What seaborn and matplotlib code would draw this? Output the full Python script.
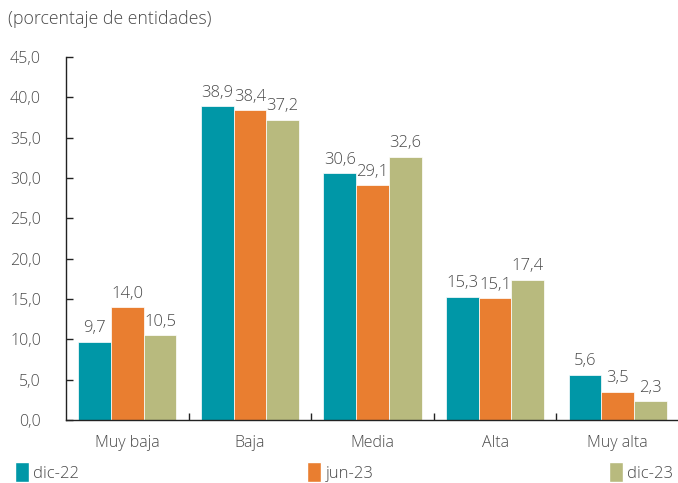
import matplotlib
matplotlib.use("Agg")
import matplotlib.pyplot as plt
from matplotlib.patches import Patch
from matplotlib.ticker import FixedLocator
import seaborn as sns
import pandas as pd

categorias = ["Muy baja", "Baja", "Media", "Alta", "Muy alta"]
periodos = ["dic-22", "jun-23", "dic-23"]
dic22 = [9.7, 38.9, 30.6, 15.3, 5.6]
jun23 = [14.0, 38.4, 29.1, 15.1, 3.5]
dic23 = [10.5, 37.2, 32.6, 17.4, 2.3]
colores = ["#0097A7", "#E97E30", "#B8BA7E"]
yticks = [0, 5, 10, 15, 20, 25, 30, 35, 40, 45]

df = pd.DataFrame({
    "categoria": categorias * 3,
    "periodo": [p for p in periodos for _ in categorias],
    "valor": dic22 + jun23 + dic23,
})

sns.set_theme(style="white")
plt.rcParams["font.family"] = ["Open Sans", "DejaVu Sans"]
plt.rcParams["font.weight"] = "light"
texto = "#4a4a4a"

fig = plt.figure(figsize=(6.78, 4.83), dpi=100)
ax = fig.add_axes([66 / 678, 1 - 420 / 483, 613 / 678, (420 - 57) / 483])

sns.barplot(data=df, x="categoria", y="valor", hue="periodo", order=categorias,
            hue_order=periodos, palette=colores, width=0.8, saturation=1,
            edgecolor="white", linewidth=0.5, legend=False, ax=ax)

for cont in ax.containers:
    ax.bar_label(cont, labels=[f"{v:.1f}".replace(".", ",") for v in cont.datavalues],
                 padding=4, fontsize=12, color=texto)

ax.set_ylim(0, 45)
ax.set_xlim(-0.5, 4.5)
ax.set_yticks(yticks)
ax.set_yticklabels([f"{v:.1f}".replace(".", ",") for v in yticks], fontsize=11.5, color=texto)
ax.tick_params(axis="y", direction="in", length=5, width=1, color="#222222", pad=18, left=True)
ax.set_xticks(range(len(categorias)))
ax.set_xticklabels(categorias, fontsize=11.5, color=texto)
ax.xaxis.set_minor_locator(FixedLocator([0.5, 1.5, 2.5, 3.5]))
ax.tick_params(axis="x", which="major", length=0, pad=11)
ax.tick_params(axis="x", which="minor", direction="in", length=5, width=1, color="#222222", bottom=True)
ax.set_xlabel("")
ax.set_ylabel("")
for s in ["top", "right"]:
    ax.spines[s].set_visible(False)
for s in ["left", "bottom"]:
    ax.spines[s].set_color("#222222")
    ax.spines[s].set_linewidth(1)

fig.text(8 / 678, 1 - 19 / 483, "(porcentaje de entidades)", fontsize=12.8,
         color=texto, va="center", ha="left")

xs = [0 / 678, 292 / 678, 594 / 678]
for x, p, c in zip(xs, periodos, colores):
    fig.legend(handles=[Patch(facecolor=c, label=p)], loc="center left",
               bbox_to_anchor=(x, 1 - 472 / 483), frameon=False, fontsize=12,
               handlelength=0.85, handleheight=1.4, handletextpad=0.25,
               labelcolor=texto)

fig.savefig("out.png", dpi=100)
